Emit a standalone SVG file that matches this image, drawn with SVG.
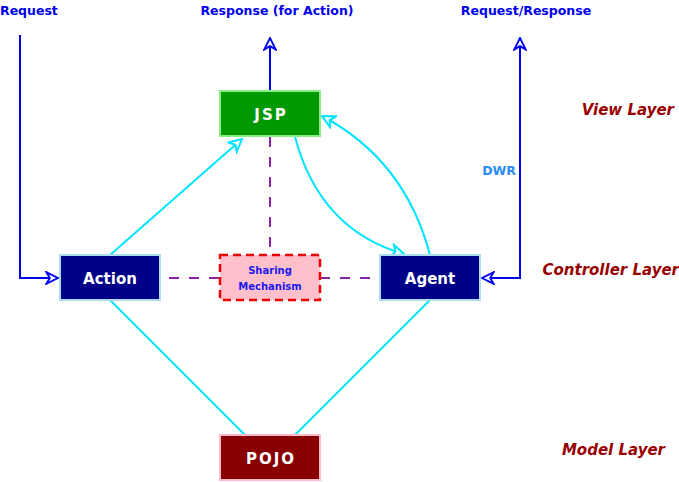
<svg xmlns="http://www.w3.org/2000/svg" width="679" height="482" viewBox="0 0 679 482">
<style>
text{font-family:"DejaVu Sans","Liberation Sans",sans-serif;font-weight:bold}
.top{fill:#0000ee;font-size:12.5px}
.layer{fill:#990000;font-size:15px;font-style:italic}
.node{fill:#fff;font-size:15px;text-anchor:middle}
.blue{stroke:#0000ee;stroke-width:2;fill:none}
.cyan{stroke:#00e5ff;stroke-width:2;fill:none}
.purple{stroke:#8822aa;stroke-width:2;fill:none;stroke-dasharray:10,10}
.sm{fill:#1a1aee;font-size:10px;text-anchor:middle}
</style>
<defs>
<marker id="ab" viewBox="0 0 12 12" refX="11" refY="6" markerWidth="14" markerHeight="14" markerUnits="userSpaceOnUse" orient="auto-start-reverse">
<path d="M1,1 L11,6 L1,11 L4,6 Z" fill="#fff" stroke="#0000ee" stroke-width="1.6"/>
</marker>
<marker id="ac" viewBox="0 0 12 12" refX="11" refY="6" markerWidth="15" markerHeight="15" markerUnits="userSpaceOnUse" orient="auto-start-reverse">
<path d="M1,1 L11,6 L1,11 L4,6 Z" fill="#fff" stroke="#00e5ff" stroke-width="1.6"/>
</marker>
</defs>
<g id="labels">
<text class="top" x="0" y="15">Request</text>
<text class="top" x="277" y="15" text-anchor="middle">Response (for Action)</text>
<text class="top" x="526" y="15" text-anchor="middle">Request/Response</text>
<text x="516" y="175" text-anchor="end" style="fill:#2a8cf5;font-size:12.5px">DWR</text>
<text class="layer" x="674" y="115" text-anchor="end">View Layer</text>
<text class="layer" x="679" y="275" text-anchor="end">Controller Layer</text>
<text class="layer" x="665" y="455" text-anchor="end">Model Layer</text>
</g>
<g id="connectors">
<path class="blue" d="M20,35 V278 H58" marker-end="url(#ab)"/>
<path class="blue" d="M270,91 V38" marker-end="url(#ab)"/>
<path class="blue" d="M482,278 H520 V38" marker-start="url(#ab)" marker-end="url(#ab)"/>
<path class="cyan" d="M110,255 L242,139" marker-end="url(#ac)"/>
<path class="cyan" d="M295,137 Q320,230 404,254" marker-end="url(#ac)"/>
<path class="cyan" d="M430,255 Q405,160 322,116" marker-end="url(#ac)"/>
<path class="cyan" d="M110,300 L245,435"/>
<path class="cyan" d="M430,300 L295,435"/>
<path class="purple" d="M270,137 V255"/>
<path class="purple" d="M169,278 H220"/>
<path class="purple" d="M320,278 H380"/>
</g>
<g id="jsp">
<rect x="220" y="91" width="100" height="45" fill="#009900" stroke="#88ee88" stroke-width="2"/>
<text class="node" x="271" y="120" letter-spacing="2">JSP</text>
</g>
<g id="action">
<rect x="60" y="255" width="100" height="45" fill="#000088" stroke="#aaddee" stroke-width="2"/>
<text class="node" x="110" y="284">Action</text>
</g>
<g id="sharing">
<rect x="220" y="255" width="100" height="45" fill="#ffc0cb" stroke="#ee0000" stroke-width="2.5" stroke-dasharray="8,5"/>
<text class="sm" x="270" y="274">Sharing</text>
<text class="sm" x="270" y="290">Mechanism</text>
</g>
<g id="agent">
<rect x="380" y="255" width="100" height="45" fill="#000088" stroke="#aaddee" stroke-width="2"/>
<text class="node" x="430" y="284">Agent</text>
</g>
<g id="pojo">
<rect x="220" y="435" width="100" height="45" fill="#880000" stroke="#ffbbcc" stroke-width="2"/>
<text class="node" x="271" y="464" letter-spacing="2">POJO</text>
</g>
</svg>
